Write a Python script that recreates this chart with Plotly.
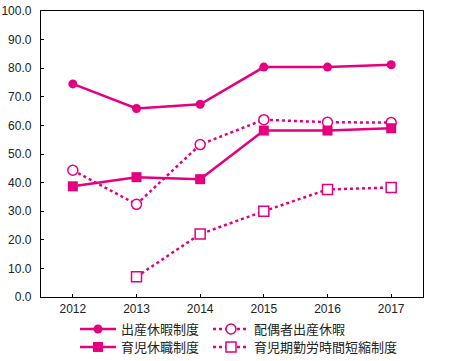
import plotly.graph_objects as go

years = ["2012", "2013", "2014", "2015", "2016", "2017"]
maternity_leave = [74.5, 65.9, 67.4, 80.4, 80.4, 81.2]
spouse_leave = [44.3, 32.4, 53.3, 62.0, 61.1, 61.0]
childcare_leave = [38.7, 41.9, 41.2, 58.2, 58.2, 59.0]
short_hours_years = ["2013", "2014", "2015", "2016", "2017"]
short_hours = [7.1, 22.0, 30.0, 37.6, 38.3]
yticks = [0, 10, 20, 30, 40, 50, 60, 70, 80, 90, 100]

C = "#E4007F"
fig = go.Figure()
fig.add_trace(go.Scatter(x=years, y=maternity_leave, name="出産休暇制度", mode="lines+markers", legend="legend",
                         line=dict(color=C, width=2.5), marker=dict(symbol="circle", size=9, color=C)))
fig.add_trace(go.Scatter(x=years, y=spouse_leave, name="配偶者出産休暇", mode="lines+markers", legend="legend2",
                         line=dict(color=C, width=2.5, dash="dot"),
                         marker=dict(symbol="circle", size=10, color="white", line=dict(width=1.5, color=C))))
fig.add_trace(go.Scatter(x=years, y=childcare_leave, name="育児休職制度", mode="lines+markers", legend="legend3",
                         line=dict(color=C, width=2.5), marker=dict(symbol="square", size=10, color=C)))
fig.add_trace(go.Scatter(x=short_hours_years, y=short_hours, name="育児期勤労時間短縮制度", mode="lines+markers",
                         legend="legend4",
                         line=dict(color=C, width=2.5, dash="dot"),
                         marker=dict(symbol="square", size=10, color="white", line=dict(width=1.5, color=C))))

W, H = 450, 361
L, R, T, B = 41, 27, 11, 64
pw, ph = W - L - R, H - T - B

def lg(px, py):
    return dict(x=(px - L) / pw, xanchor="left", y=(H - B - py) / ph, yanchor="middle",
                font=dict(family="Noto Sans CJK JP", size=13, color="#222"),
                bgcolor="rgba(0,0,0,0)", borderwidth=0, itemwidth=36)

fig.update_layout(
    width=W, height=H,
    margin=dict(l=L, r=R, t=T, b=B, autoexpand=False),
    paper_bgcolor="white", plot_bgcolor="white",
    font=dict(family="Liberation Sans, Arial", size=12, color="#222"),
    showlegend=True,
    legend=lg(75, 329), legend2=lg(208, 329), legend3=lg(75, 347), legend4=lg(208, 347),
    xaxis=dict(type="category", range=[-0.5, 5.5], showline=True, mirror=True, linecolor="black", linewidth=1.3,
               ticks="inside", ticklen=3, tickcolor="black", showgrid=False, zeroline=False, automargin=False,
               ticklabeloverflow="allow",
               tickfont=dict(family="Liberation Sans, Arial", size=12, color="#222")),
    yaxis=dict(range=[0, 100], tickvals=yticks, tickformat=".1f", showline=True, mirror=True,
               linecolor="black", linewidth=1.3, ticks="inside", ticklen=3, tickcolor="black",
               showgrid=False, zeroline=False, ticklabelstandoff=6, automargin=False,
               ticklabeloverflow="allow",
               tickfont=dict(family="Liberation Sans, Arial", size=12, color="#222")),
)
fig.write_html("out.html", config={"displayModeBar": False},
               post_script="document.body.style.margin='0';document.body.style.overflow='hidden';")
